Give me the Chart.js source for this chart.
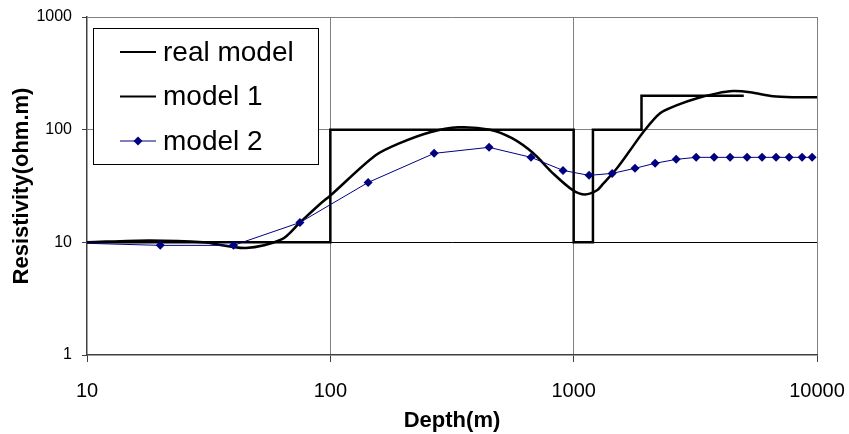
<!DOCTYPE html>
<html>
<head>
<meta charset="utf-8">
<script src="https://cdn.jsdelivr.net/npm/chart.js@4"></script>
<style>
  html, body { margin: 0; padding: 0; background: #fff; }
</style>
</head>
<body>
<canvas id="chart" width="849" height="434"></canvas>
<script>
// step model (depth where each layer starts, resistivity of that layer)
const realDepth = [10, 100, 1000, 1200, 1900, 5000];
const realRes = [10, 100, 10, 100, 200, 200];

const model1Depth = [10, 18, 30, 45, 63, 75, 91, 100, 153, 193, 257, 335, 453, 558, 681, 822, 993, 1114, 1248, 1320, 1500, 1700, 1930, 2265, 2660, 3216, 3883, 4519, 5308, 6600, 7950, 10000];
const model1Res = [10, 10.4, 10, 8.9, 10.6, 15, 22, 26, 59, 76, 95, 105, 100, 84, 62, 41, 29, 26.6, 29, 33, 45, 65, 95, 140, 165, 190, 210, 220, 215, 198, 194, 194];

const model2Depth = [10, 20, 40, 75, 143, 267, 449, 668, 904, 1157, 1439, 1787, 2161, 2638, 3187, 3777, 4394, 5160, 5946, 6788, 7680, 8682, 9550];
const model2Res = [9.8, 9.4, 9.4, 15, 34, 61.6, 69.7, 56.8, 43.5, 39.3, 40.9, 45.4, 50.3, 54.5, 56.8, 56.8, 56.8, 56.8, 56.8, 56.8, 56.8, 56.8, 56.8];

const xTicks = [10, 100, 1000, 10000];
const yTicks = [1, 10, 100, 1000];

const FONT = '"Liberation Sans", Arial, sans-serif';

function pts(xs, ys) {
  return xs.map((x, i) => ({ x: x, y: ys[i] }));
}

// legend drawn inside the plot, with a frame like the original
const boxLegend = {
  id: 'boxLegend',
  afterDatasetsDraw(chart) {
    const { ctx, chartArea } = chart;
    const x0 = chartArea.left + 6, y0 = chartArea.top + 11, w = 225, h = 136;
    ctx.save();
    ctx.fillStyle = '#fff';
    ctx.fillRect(x0, y0, w, h);
    ctx.strokeStyle = '#000';
    ctx.lineWidth = 1;
    ctx.strokeRect(x0 + 0.5, y0 + 0.5, w, h);
    ctx.font = '28px ' + FONT;
    ctx.textBaseline = 'middle';
    chart.data.datasets.forEach((ds, i) => {
      const y = y0 + 24 + i * 44.5;
      ctx.strokeStyle = ds.borderColor;
      ctx.lineWidth = ds.borderWidth > 1 ? 2 : 1;
      ctx.beginPath();
      ctx.moveTo(x0 + 27, y);
      ctx.lineTo(x0 + 63, y);
      ctx.stroke();
      if (ds.label === 'model 2') {
        ctx.fillStyle = ds.borderColor;
        ctx.beginPath();
        ctx.moveTo(x0 + 45, y - 4.5);
        ctx.lineTo(x0 + 49.5, y);
        ctx.lineTo(x0 + 45, y + 4.5);
        ctx.lineTo(x0 + 40.5, y);
        ctx.closePath();
        ctx.fill();
      }
      ctx.fillStyle = '#000';
      ctx.fillText(ds.label, x0 + 70, y + 1);
    });
    ctx.restore();
  }
};

new Chart(document.getElementById('chart').getContext('2d'), {
  type: 'line',
  data: {
    datasets: [{
      label: 'real model',
      data: pts(realDepth, realRes),
      stepped: 'before',
      borderColor: '#000',
      borderWidth: 2.5,
      pointRadius: 0,
      order: 2
    }, {
      label: 'model 1',
      data: pts(model1Depth, model1Res),
      borderColor: '#000',
      borderWidth: 2.5,
      tension: 0.3,
      pointRadius: 0,
      order: 1
    }, {
      label: 'model 2',
      data: pts(model2Depth, model2Res),
      borderColor: '#000080',
      backgroundColor: '#000080',
      borderWidth: 1,
      pointStyle: 'rectRot',
      pointRadius: (c) => c.dataIndex === 0 ? 0 : 4.5,
      pointBorderWidth: 0,
      order: 0
    }]
  },
  options: {
    responsive: false,
    animation: false,
    events: [],
    layout: { padding: { top: 17, right: 32, left: 0, bottom: 0 } },
    plugins: {
      legend: { display: false },
      tooltip: { enabled: false }
    },
    scales: {
      x: {
        type: 'logarithmic',
        min: 10,
        max: 10000,
        afterBuildTicks: (s) => { s.ticks = xTicks.map(v => ({ value: v })); },
        afterFit: (s) => { s.height = 79; s.paddingRight = 0; s.paddingLeft = 0; },
        ticks: {
          color: '#000',
          font: { family: FONT, size: 20 },
          padding: 17,
          maxRotation: 0,
          callback: (v) => String(v)
        },
        grid: {
          color: (c) => c.tick && c.tick.value === 10 ? 'rgba(0,0,0,0)' : '#808080',
          lineWidth: 1,
          tickLength: 7,
          tickColor: '#404040'
        },
        border: { color: '#404040', width: 1.5 },
        title: {
          display: true,
          text: 'Depth(m)',
          color: '#000',
          font: { family: FONT, size: 22, weight: 'bold' },
          padding: { top: 0, bottom: 0 }
        }
      },
      y: {
        type: 'logarithmic',
        min: 1,
        max: 1000,
        afterBuildTicks: (s) => { s.ticks = yTicks.map(v => ({ value: v })); },
        afterFit: (s) => { s.width = 87; s.paddingTop = 0; s.paddingBottom = 0; },
        ticks: {
          color: '#000',
          font: { family: FONT, size: 16 },
          padding: 10,
          callback: (v) => String(v)
        },
        grid: {
          color: (c) => c.tick && c.tick.value === 10 ? '#000' : (c.tick && c.tick.value === 1 ? 'rgba(0,0,0,0)' : '#808080'),
          lineWidth: 1,
          tickLength: 5,
          tickColor: '#404040'
        },
        border: { color: '#404040', width: 1.5 },
        title: {
          display: true,
          text: 'Resistivity(ohm.m)',
          color: '#000',
          font: { family: FONT, size: 22, weight: 'bold' },
          padding: { top: 9, bottom: 0 }
        }
      }
    }
  },
  plugins: [boxLegend]
});
</script>
</body>
</html>
